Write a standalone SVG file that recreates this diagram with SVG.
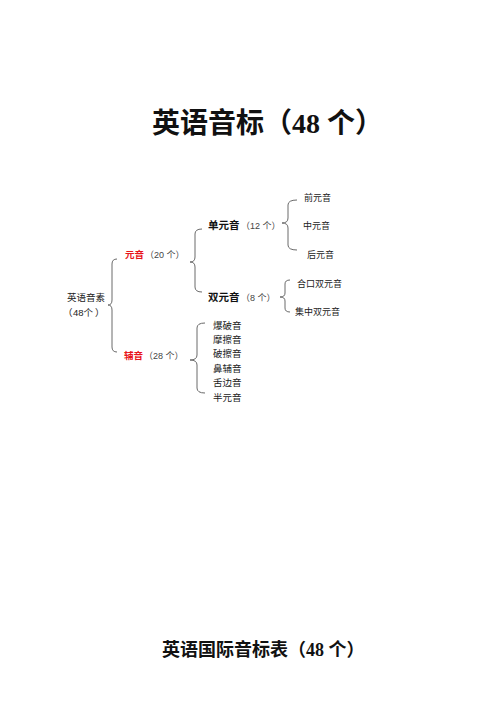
<svg xmlns="http://www.w3.org/2000/svg" width="496" height="702" viewBox="0 0 496 702">
<style>
.t{font-family:"Liberation Sans","Noto Sans CJK SC",sans-serif;fill:#222;}
.s{font-size:9px;}
.m{font-size:9.5px;}
.b{font-size:10.5px;font-weight:bold;fill:#111;}
.r{font-size:9.5px;font-weight:bold;fill:#e8141a;}
.c{font-size:9px;fill:#444;}
.h{font-family:"Liberation Serif","Noto Sans CJK SC",serif;font-weight:bold;fill:#111;}
.br{fill:none;stroke:#6a6a6a;stroke-width:1;}
</style>
<rect width="496" height="702" fill="#fff"/>
<g id="title"><text class="h" x="152" y="133" font-size="28">英语音标（48 个）</text></g>
<g id="subtitle"><text class="h" x="162" y="655.5" font-size="18">英语国际音标表（48 个）</text></g>
<g id="connectors">
<path class="br" d="M117,259 Q112,259 112,264 L112,300 Q112,305 108,305 Q112,305 112,310 L112,347 Q112,352 117,352"/>
<path class="br" d="M202,229 Q195,229 195,234 L195,257 Q195,262 190,262 Q195,262 195,267 L195,287 Q195,292 202,292"/>
<path class="br" d="M297,200 Q288,200 288,205 L288,218 Q288,223 282,223 Q288,223 288,228 L288,245 Q288,250 297,250"/>
<path class="br" d="M290,280 Q285,280 285,284 L285,293 Q285,297 280,297 Q285,297 285,301 L285,308 Q285,312 290,312"/>
<path class="br" d="M205,323 Q197,323 197,328 L197,355 Q197,360 190,360 Q197,360 197,365 L197,388 Q197,393 205,393"/>
</g>
<g id="root"><text class="t m" x="67" y="300.5">英语音素</text><text class="t m" y="316"><tspan x="63">（</tspan><tspan x="73">48个</tspan><tspan x="95">）</tspan></text></g>
<g id="vowel"><text class="t r" x="125" y="257.5">元音</text><text class="t c" x="145" y="257.5">（20 个）</text></g>
<g id="consonant"><text class="t r" x="124" y="358.5">辅音</text><text class="t c" x="144" y="358.5">（28 个）</text></g>
<g id="monophthong"><text class="t b" x="208" y="229">单元音</text><text class="t c" x="241" y="229">（12 个）</text></g>
<g id="diphthong"><text class="t b" x="208" y="300.5">双元音</text><text class="t c" x="241" y="300.5">（8 个）</text></g>
<g id="front"><text class="t s" x="304" y="200.5">前元音</text></g>
<g id="central"><text class="t s" x="303" y="228.5">中元音</text></g>
<g id="back"><text class="t s" x="307" y="257.5">后元音</text></g>
<g id="closing"><text class="t s" x="297" y="286.5">合口双元音</text></g>
<g id="centring"><text class="t s" x="295" y="314.5">集中双元音</text></g>
<g id="plosive"><text class="t m" x="213" y="328.5">爆破音</text></g>
<g id="fricative"><text class="t m" x="213" y="342.9">摩擦音</text></g>
<g id="affricate"><text class="t m" x="213" y="357.3">破擦音</text></g>
<g id="nasal"><text class="t m" x="213" y="371.7">鼻辅音</text></g>
<g id="lateral"><text class="t m" x="213" y="386.1">舌边音</text></g>
<g id="semivowel"><text class="t m" x="213" y="400.5">半元音</text></g>
</svg>
